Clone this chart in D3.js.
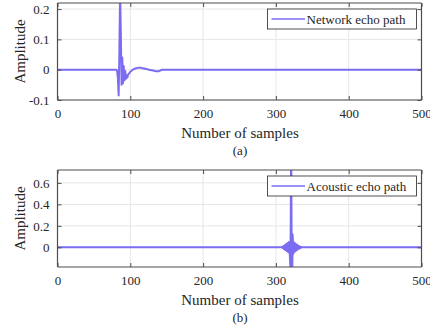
<!DOCTYPE html>
<html>
<head>
<meta charset="utf-8">
<script src="https://cdn.jsdelivr.net/npm/d3@7"></script>
<style>
  body { margin: 0; background: #fff; }
</style>
</head>
<body>
<div class="canvas"></div>
<script>
// samples axis
const nSamples = 500;
const xTicks = [0, 100, 200, 300, 400, 500];

// network echo path: non-zero part starts at sample 80
const netStart = 80;
const netValues = [
  0, 0, -0.006, -0.03, -0.085, 0.06, 0.26, 0.12, -0.05, 0.04,
  -0.045, 0.012, -0.035, -0.004, -0.03, -0.018, -0.026, -0.016, -0.014, -0.01,
  -0.007, -0.005, -0.003, -0.001, 0.001, 0.002, 0.003, 0.004, 0.005, 0.005,
  0.006, 0.006, 0.006, 0.006, 0.006, 0.006, 0.005, 0.005, 0.004, 0.004,
  0.003, 0.003, 0.002, 0.002, 0.001, 0.0, 0.0, -0.001, -0.001, -0.002,
  -0.002, -0.003, -0.003, -0.004, -0.004, -0.005, -0.005, -0.005, -0.005, -0.005,
  -0.004, -0.003, -0.002, -0.001, 0, 0, 0, 0, 0, 0, 0
];
const netTicksY = [-0.1, 0, 0.1, 0.2];
const netLabelsY = ['-0.1', '0', '0.1', '0.2'];

// acoustic echo path: non-zero part starts at sample 307
const acuStart = 307;
const acuValues = [
  0, 0.003, -0.006, 0.01, -0.015, 0.02, -0.025, 0.03, -0.035, 0.04,
  -0.045, 0.05, -0.06, -0.2, 1.0, -0.6, 0.12, -0.06, 0.045, -0.04,
  0.035, -0.03, 0.025, -0.02, 0.015, -0.012, 0.008, -0.005, 0.003, 0, 0
];
const acuTicksY = [0, 0.2, 0.4, 0.6];
const acuLabelsY = ['0', '0.2', '0.4', '0.6'];

const lineColor = '#7b6cf2';
const serif = 'Liberation Serif';
const textColor = '#262626';

const svg = d3.select('.canvas')
  .append('svg')
    .attr('width', 430)
    .attr('height', 334);

// builds the full 0..500 series from the non-zero part
const buildSeries = (start, vals) => {
  const out = [];
  for (let i = 0; i <= nSamples; i++) {
    const k = i - start;
    out.push([i, (k >= 0 && k < vals.length) ? vals[k] : 0]);
  }
  return out;
};

const drawPanel = (opt) => {
  const left = 57.5, right = 421.5;
  const g = svg.append('g');

  const x = d3.scaleLinear().domain([0, nSamples]).range([left, right]);
  const y = d3.scaleLinear().domain(opt.yDomain).range([opt.bottom, opt.top]);

  // grid
  g.selectAll('.gx').data(xTicks.slice(1, -1)).enter()
    .append('line')
      .attr('x1', d => x(d)).attr('x2', d => x(d))
      .attr('y1', opt.top).attr('y2', opt.bottom)
      .attr('stroke', '#e6e6e6').attr('stroke-width', 1);
  g.selectAll('.gy').data(opt.ticksY).enter()
    .append('line')
      .attr('x1', left).attr('x2', right)
      .attr('y1', d => y(d)).attr('y2', d => y(d))
      .attr('stroke', '#e6e6e6').attr('stroke-width', 1);

  // clip
  const id = 'clip' + opt.name;
  svg.append('clipPath').attr('id', id)
    .append('rect')
      .attr('x', left).attr('y', opt.top)
      .attr('width', right - left).attr('height', opt.bottom - opt.top);

  const line = d3.line().x(d => x(d[0])).y(d => y(d[1]));
  g.append('path')
    .datum(buildSeries(opt.start, opt.values))
    .attr('clip-path', `url(#${id})`)
    .attr('fill', 'none')
    .attr('stroke', lineColor)
    .attr('stroke-width', 2)
    .attr('stroke-linejoin', 'round')
    .attr('d', line);

  // axes (ticks inside, box all round)
  const tl = 4;
  const ax = d3.axisBottom(x).tickValues(xTicks).tickSize(-tl).tickPadding(9).tickFormat(d3.format('d'));
  const gb = g.append('g').attr('transform', `translate(0,${opt.bottom})`).call(ax);
  const gt = g.append('g').attr('transform', `translate(0,${opt.top})`)
    .call(d3.axisTop(x).tickValues(xTicks).tickSize(-tl).tickFormat(''));
  const gl = g.append('g').attr('transform', `translate(${left},0)`)
    .call(d3.axisLeft(y).tickValues(opt.ticksY).tickSize(-tl).tickPadding(8)
      .tickFormat((d, i) => opt.labelsY[i]));
  const gr = g.append('g').attr('transform', `translate(${right},0)`)
    .call(d3.axisRight(y).tickValues(opt.ticksY).tickSize(-tl).tickFormat(''));
  [gb, gt, gl, gr].forEach(a => {
    a.attr('font-family', serif).attr('font-size', 13);
    a.select('.domain').attr('stroke', '#4d4d4d').attr('stroke-width', 1.2);
    a.selectAll('.tick line').attr('stroke', '#4d4d4d');
    a.selectAll('.tick text').attr('fill', textColor);
  });
  gb.selectAll('.domain').attr('d', `M${left},0H${right}`);
  gt.selectAll('.domain').attr('d', `M${left},0H${right}`);
  gl.selectAll('.domain').attr('d', `M0,${opt.top}V${opt.bottom}`);
  gr.selectAll('.domain').attr('d', `M0,${opt.top}V${opt.bottom}`);

  // labels
  g.append('text')
    .attr('x', 240).attr('y', opt.bottom + 38)
    .attr('text-anchor', 'middle')
    .attr('font-family', serif).attr('font-size', 15).attr('fill', textColor)
    .text('Number of samples');
  g.append('text')
    .attr('x', 240).attr('y', opt.bottom + 55)
    .attr('text-anchor', 'middle')
    .attr('font-family', serif).attr('font-size', 13).attr('fill', textColor)
    .text(opt.caption);
  g.append('text')
    .attr('transform', `translate(25,${(opt.top + opt.bottom) / 2}) rotate(-90)`)
    .attr('text-anchor', 'middle')
    .attr('font-family', serif).attr('font-size', 15).attr('fill', textColor)
    .text('Amplitude');

  // legend
  const lg = g.append('g').attr('transform', `translate(267.5,${opt.top + 6})`);
  lg.append('rect')
    .attr('width', 149).attr('height', 20)
    .attr('fill', '#fff').attr('stroke', textColor).attr('stroke-width', 0.8);
  lg.append('line')
    .attr('x1', 4).attr('x2', 37.5).attr('y1', 10).attr('y2', 10)
    .attr('stroke', lineColor).attr('stroke-width', 1.5);
  lg.append('text')
    .attr('x', 39).attr('y', 14.5)
    .attr('font-family', serif).attr('font-size', 13).attr('fill', textColor)
    .text(opt.legend);
};

drawPanel({
  name: 'a', top: 3, bottom: 100, yDomain: [-0.1, 0.22],
  ticksY: netTicksY, labelsY: netLabelsY,
  start: netStart, values: netValues,
  legend: 'Network echo path', caption: '(a)'
});

drawPanel({
  name: 'b', top: 170, bottom: 267, yDomain: [-0.183, 0.72],
  ticksY: acuTicksY, labelsY: acuLabelsY,
  start: acuStart, values: acuValues,
  legend: 'Acoustic echo path', caption: '(b)'
});
</script>
</body>
</html>
